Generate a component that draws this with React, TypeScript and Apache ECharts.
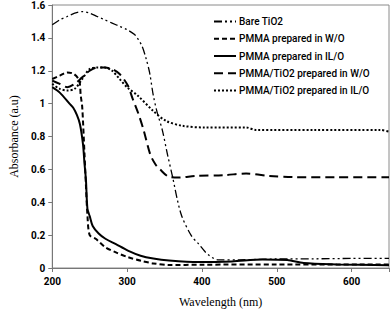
import React, { useEffect, useRef } from "react";
import * as echarts from "echarts";

// Wavelength (nm) / absorbance (a.u.) pairs
const bareTiO2: [number, number][] = [
  [200, 1.48], [210, 1.51], [220, 1.53], [230, 1.55], [240, 1.56], [250, 1.55], [260, 1.53],
  [270, 1.51], [280, 1.49], [290, 1.47], [300, 1.45], [310, 1.42], [315, 1.39], [320, 1.35],
  [325, 1.28], [330, 1.19], [335, 1.05], [340, 0.95], [347, 0.84], [354, 0.69], [360, 0.57],
  [372, 0.33], [386, 0.195], [395, 0.15], [404, 0.1], [410, 0.075], [416, 0.058], [422, 0.05],
  [450, 0.05], [500, 0.055], [550, 0.056], [600, 0.058], [650, 0.058],
];
const pmmaWO: [number, number][] = [
  [200, 1.15], [210, 1.17], [220, 1.19], [229, 1.18], [236, 1.14], [238, 1.05], [240, 0.98],
  [243, 0.7], [245, 0.5], [247, 0.32], [250, 0.2], [258, 0.178], [271, 0.126], [285, 0.095],
  [301, 0.066], [320, 0.042], [335, 0.028], [356, 0.018], [400, 0.02], [500, 0.022], [650, 0.022],
];
const pmmaILO: [number, number][] = [
  [200, 1.1], [210, 1.067], [223, 1.0], [228, 0.975], [233, 0.93], [237, 0.875], [241, 0.755],
  [243, 0.64], [245, 0.535], [247, 0.36], [250, 0.316], [254, 0.256], [262, 0.21], [271, 0.178],
  [285, 0.145], [301, 0.106], [318, 0.075], [335, 0.058], [356, 0.046], [395, 0.036],
  [440, 0.04], [481, 0.052], [514, 0.048], [536, 0.03], [580, 0.022], [650, 0.016],
];
const pmmaTiO2WO: [number, number][] = [
  [200, 1.14], [210, 1.12], [220, 1.1], [230, 1.12], [240, 1.16], [250, 1.2], [260, 1.22],
  [270, 1.22], [280, 1.21], [290, 1.18], [301, 1.11], [307, 1.035], [315, 0.94], [322, 0.84],
  [331, 0.69], [338, 0.63], [344, 0.6], [356, 0.555], [370, 0.55], [391, 0.56], [430, 0.565],
  [459, 0.575], [490, 0.56], [523, 0.553], [580, 0.552], [650, 0.552],
];
const pmmaTiO2ILO: [number, number][] = [
  [200, 1.12], [210, 1.09], [220, 1.08], [230, 1.09], [240, 1.15], [250, 1.21], [260, 1.22],
  [270, 1.22], [280, 1.2], [290, 1.15], [301, 1.095], [314, 1.05], [335, 0.955], [352, 0.895],
  [374, 0.865], [404, 0.855], [459, 0.855], [472, 0.84], [550, 0.84], [638, 0.84], [650, 0.83],
];

const seriesNames = [
  "Bare TiO2",
  "PMMA prepared in W/O",
  "PMMA prepared in IL/O",
  "PMMA/TiO2 prepared in W/O",
  "PMMA/TiO2 prepared in IL/O",
];
const seriesData = [bareTiO2, pmmaWO, pmmaILO, pmmaTiO2WO, pmmaTiO2ILO];
const dashes: (number[] | "solid")[] = [[8, 3, 2, 3, 2, 3], [5, 3], "solid", [9, 5], [2, 2]];
const widths = [1.3, 2, 2, 2, 2];
const yTicks = [0, 0.2, 0.4, 0.6, 0.8, 1, 1.2, 1.4, 1.6];

export default function App() {
  const ref = useRef<HTMLDivElement>(null);
  useEffect(() => {
    if (!ref.current) return;
    const chart = echarts.init(ref.current, null, { renderer: "svg" });
    const labelFont = "Roboto, 'Liberation Sans', sans-serif";
    const serif = "'Liberation Serif', 'DejaVu Serif', serif";
    chart.setOption({
      animation: false,
      backgroundColor: "#fff",
      grid: {
        left: 38, right: 2, top: 5, bottom: 40,
        show: true, borderColor: "#8a8a8a", borderWidth: 1,
      },
      legend: {
        orient: "vertical",
        left: 208,
        top: 11,
        itemWidth: 22,
        itemHeight: 14,
        itemGap: 6,
        data: seriesNames,
        itemStyle: { opacity: 0 },
        textStyle: { fontSize: 10, fontFamily: labelFont, fontWeight: 500, color: "#000", padding: [0, 0, 0, -2] },
      },
      xAxis: {
        type: "value",
        min: 200,
        max: 650,
        interval: 100,
        name: "Wavelength (nm)",
        nameLocation: "middle",
        nameGap: 28,
        nameTextStyle: { fontFamily: serif, fontSize: 12, color: "#000" },
        splitLine: { show: false },
        axisLine: { lineStyle: { color: "#777", width: 1 } },
        axisTick: { show: true, inside: false, length: 4, lineStyle: { color: "#777" } },
        axisLabel: {
          fontSize: 10, fontWeight: "bold", fontFamily: labelFont, color: "#000", margin: 8,
          formatter: (v: number) => (v % 100 === 0 ? String(v) : ""),
        },
      },
      yAxis: {
        type: "value",
        min: yTicks[0],
        max: yTicks[yTicks.length - 1],
        interval: 0.2,
        name: "Absorbance (a.u)",
        nameLocation: "middle",
        nameGap: 26,
        nameTextStyle: { fontFamily: serif, fontSize: 12, color: "#000" },
        splitLine: { show: false },
        axisLine: { show: true, lineStyle: { color: "#777", width: 1 } },
        axisTick: { show: true, inside: false, length: 4, lineStyle: { color: "#777" } },
        axisLabel: {
          fontSize: 10, fontWeight: "bold", fontFamily: labelFont, color: "#000", margin: 7,
          formatter: (v: number) => String(+v.toFixed(1)),
        },
      },
      series: seriesNames.map((name, i) => ({
        name,
        type: "line",
        data: seriesData[i],
        smooth: 0.3,
        symbol: "none",
        color: "#000",
        lineStyle: { color: "#000", width: widths[i], type: dashes[i] },
      })),
    });
    return () => chart.dispose();
  }, []);
  return (
    <div
      ref={ref}
      style={{ position: "absolute", left: 0, top: 0, width: 392, height: 313 }}
    />
  );
}
